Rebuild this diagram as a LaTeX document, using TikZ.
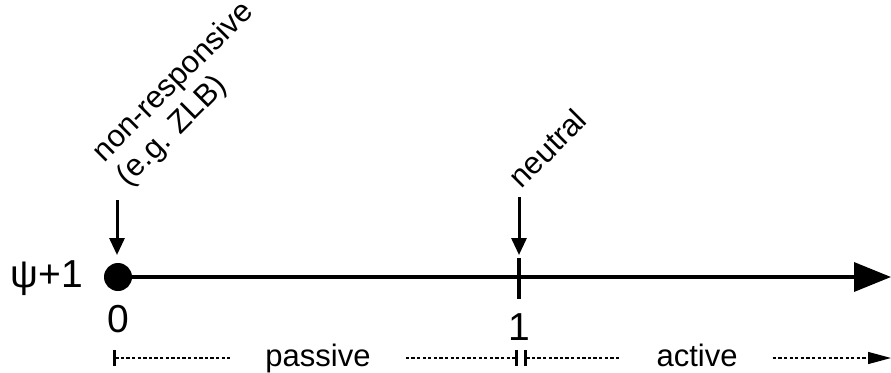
\documentclass[tikz,border=0pt]{standalone}
\usepackage{fontspec}
\setmainfont{Liberation Sans}
\usetikzlibrary{arrows.meta}
\tikzstyle{axisline}=[line width=3.5pt, -{Triangle[length=37pt,width=29pt]}]
\tikzstyle{pointer}=[line width=3pt, -{Triangle[length=17pt,width=15pt]}]
\tikzstyle{dotline}=[line width=1.3pt, dash pattern=on 3.3pt off 2.3pt]
\tikzstyle{big}=[font=\fontsize{39}{42}\selectfont, inner sep=0pt]
\tikzstyle{small}=[font=\fontsize{31}{34}\selectfont, inner sep=0pt]
\tikzstyle{seg}=[small, inner xsep=35pt]

\begin{document}
\begin{tikzpicture}[x=1pt, y=-1pt]
  \useasboundingbox (0,0) rectangle (891,372);
  % axis
  \node[circle, fill=black, inner sep=0pt, minimum size=28pt] (zero) at (118,277) {};
  \coordinate (axend) at (891,277);
  \draw[axisline] (zero.center) -- (axend);
  \coordinate (ticktop) at (519,258);
  \coordinate (tickbot) at (519,299);
  \draw[line width=3.5pt] (ticktop) -- (tickbot);
  \node[big, anchor=base] (psi) at (47,287) {ψ+1};
  \node[big, anchor=base] (lzero) at (118,332) {0};
  \node[big, anchor=base] (lone) at (519,340) {1};
  % pointers
  \coordinate (nrtop) at (117,200);
  \coordinate (nrtip) at (117,255);
  \draw[pointer] (nrtop) -- (nrtip);
  \node[small, rotate=45, anchor=south west, align=left]
    (nonresp) at (133,192) {non-responsive\\(e.g. ZLB)};
  \coordinate (ntop) at (519,197);
  \coordinate (ntip) at (519,255);
  \draw[pointer] (ntop) -- (ntip);
  \node[small, rotate=45, anchor=south west] (neutral) at (522,190) {neutral};
  % bottom scale
  \coordinate (b0) at (113,358);
  \node[seg, anchor=base] (passive) at (318,366) {passive};
  \coordinate (b1) at (518,358);
  \coordinate (b2) at (524,358);
  \node[seg, anchor=base] (active) at (697,366) {active};
  \coordinate (bend) at (891,358);
  \draw[dotline, {Bar[width=16pt,line width=3pt]}-] (b0) -- (b0 -| passive.west);
  \draw[dotline, -{Bar[width=16pt,line width=3pt]}] (b0 -| passive.east) -- (b1);
  \draw[dotline, {Bar[width=16pt,line width=3pt]}-] (b2) -- (b2 -| active.west);
  \draw[dotline, -{Triangle[length=23pt,width=12pt]}] (b2 -| active.east) -- (bend);
\end{tikzpicture}
\end{document}
